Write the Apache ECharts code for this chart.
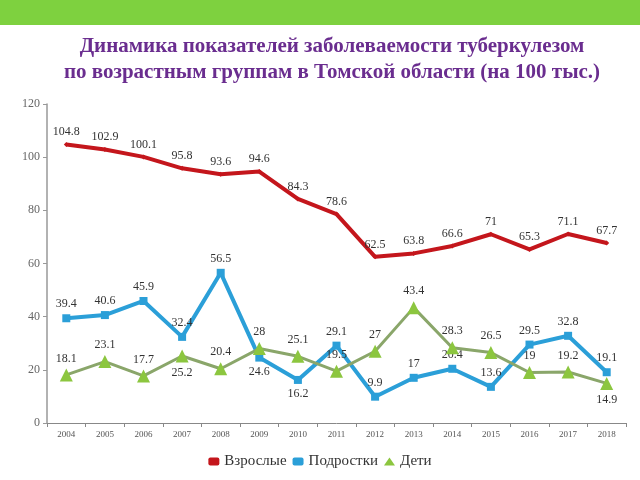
<!DOCTYPE html>
<html><head><meta charset="utf-8">
<script src="https://cdn.jsdelivr.net/npm/echarts@6/dist/echarts.min.js"></script>
<style>html,body{margin:0;padding:0;background:#fff}#c{width:640px;height:480px}</style>
</head><body><div id="c"></div>
<script>
var years = ['2004','2005','2006','2007','2008','2009','2010','2011','2012','2013','2014','2015','2016','2017','2018'];
var adults = [104.8, 102.9, 100.1, 95.8, 93.6, 94.6, 84.3, 78.6, 62.5, 63.8, 66.6, 71, 65.3, 71.1, 67.7];
var teens = [39.4, 40.6, 45.9, 32.4, 56.5, 24.6, 16.2, 29.1, 9.9, 17, 20.4, 13.6, 29.5, 32.8, 19.1];
var children = [18.1, 23.1, 17.7, 25.2, 20.4, 28, 25.1, 19.5, 27, 43.4, 28.3, 26.5, 19, 19.2, 14.9];
var seriesNames = ['Взрослые', 'Подростки', 'Дети'];
var titleLines = ['Динамика показателей заболеваемости туберкулезом', 'по возрастным группам в Томской области (на 100 тыс.)'];
// label placement (index lists of points whose label goes below)
var teensBelow = [5, 6];
var childrenBelow = [3, 14];

function mk(vals, below) {
  return vals.map(function (v, i) {
    return below.indexOf(i) >= 0 ? {value: v, label: {position: 'bottom'}} : v;
  });
}
var serif = '"Liberation Serif", "DejaVu Serif", serif';
var lbl = {show: true, position: 'top', fontFamily: serif, fontSize: 12, color: '#333', distance: 4};
var chart = echarts.init(document.getElementById('c'), null, {renderer: 'canvas'});
chart.setOption({
  animation: false,
  graphic: [
    {type: 'rect', shape: {x: 0, y: 0, width: 640, height: 25}, style: {fill: '#7ed13f'}},
    {type: 'text', x: 332, y: 47, style: {text: titleLines[0], font: 'bold 21px ' + serif, fill: '#6a2d8f', textAlign: 'center', textVerticalAlign: 'middle'}},
    {type: 'text', x: 332, y: 73, style: {text: titleLines[1], font: 'bold 21px ' + serif, fill: '#6a2d8f', textAlign: 'center', textVerticalAlign: 'middle'}}
  ],
  grid: {left: 47, right: 14, top: 104, bottom: 57},
  xAxis: {
    type: 'category', data: years, boundaryGap: true,
    axisLine: {lineStyle: {color: '#888', width: 1}},
    axisTick: {show: true, length: 4, lineStyle: {color: '#888'}},
    axisLabel: {fontFamily: serif, fontSize: 9, color: '#555', margin: 7}
  },
  yAxis: {
    type: 'value', min: 0, max: 120, interval: 20,
    axisLine: {show: true, lineStyle: {color: '#999', width: 1.5}},
    axisTick: {show: true, length: 4, lineStyle: {color: '#999'}},
    axisLabel: {fontFamily: serif, fontSize: 12, color: '#666', margin: 7},
    splitLine: {show: false}
  },
  legend: {
    bottom: 6, left: 'center', itemGap: 6, itemWidth: 11, itemHeight: 8,
    textStyle: {fontFamily: serif, fontSize: 15, color: '#333'},
    data: [
      {name: seriesNames[0], icon: 'roundRect'},
      {name: seriesNames[1], icon: 'roundRect'},
      {name: seriesNames[2], icon: 'triangle'}
    ]
  },
  series: [
    {name: seriesNames[0], type: 'line', data: adults, symbol: 'diamond', symbolSize: 5,
     lineStyle: {color: '#c4161c', width: 4}, itemStyle: {color: '#c4161c'}, label: lbl, z: 3},
    {name: seriesNames[1], type: 'line', data: mk(teens, teensBelow), symbol: 'rect', symbolSize: 8,
     lineStyle: {color: '#2b9fd8', width: 4}, itemStyle: {color: '#2b9fd8'}, label: lbl, z: 2},
    {name: seriesNames[2], type: 'line', data: mk(children, childrenBelow), symbol: 'triangle', symbolSize: 13,
     lineStyle: {color: '#8aa66a', width: 3}, itemStyle: {color: '#8cc63f'}, label: lbl, z: 4}
  ]
});
</script></body></html>
